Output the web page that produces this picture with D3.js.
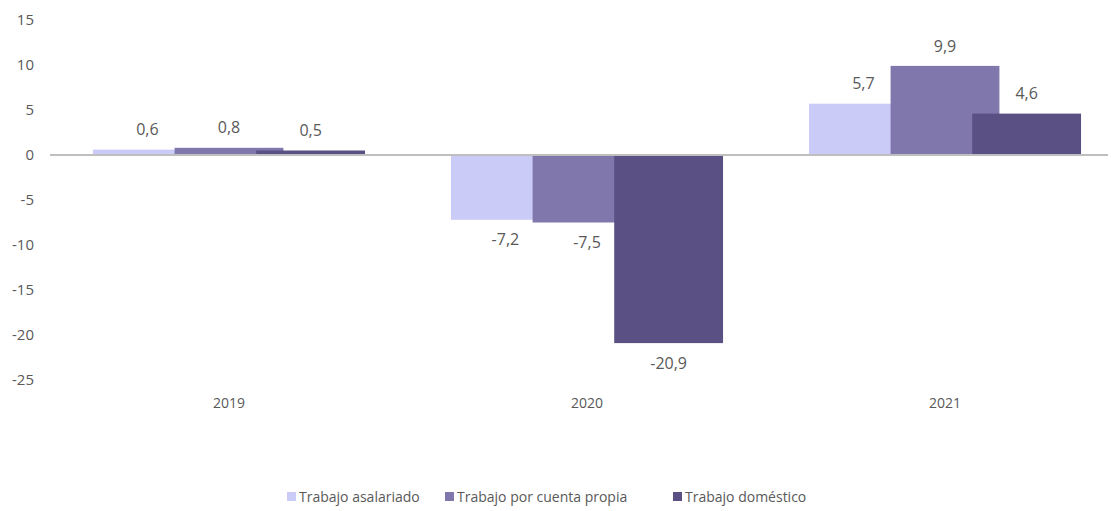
<html>
<head>
  <script src="https://d3js.org/d3.v7.min.js"></script>
  <style>
    body { margin: 0; background: white; }
    text { font-family: "Open Sans", sans-serif; fill: #595959; }
  </style>
</head>
<body>
  <svg id="chart" width="1111" height="511"></svg>
  <script>
    const years = ["2019", "2020", "2021"];
    const series = ["Trabajo asalariado", "Trabajo por cuenta propia", "Trabajo doméstico"];
    const colors = ["#CBCBF8", "#8077AC", "#5B5083"];
    const asalariado = [0.6, -7.2, 5.7];
    const cuentaPropia = [0.8, -7.5, 9.9];
    const domestico = [0.5, -20.9, 4.6];
    const yTicks = [15, 10, 5, 0, -5, -10, -15, -20, -25];

    const values = [asalariado, cuentaPropia, domestico];

    let svg = d3.select("svg#chart");

    const y = d3.scaleLinear().domain([-25, 15]).range([380, 20]);
    const x = d3.scaleBand().domain(years).range([50, 1124]).paddingInner(0.24).paddingOuter(0.12);
    // bars overlap: each bar is 4/3 of the series step
    const xs = d3.scaleBand().domain(series).range([0, x.bandwidth() * 0.9]);
    const barW = xs.bandwidth() * 4 / 3;

    const fmt = v => d3.format(".1f")(v).replace(".", ",").replace("−", "-");

    // y axis labels (no line)
    let yAxis = svg.append("g")
      .attr("transform", "translate(37,0)")
      .call(d3.axisLeft(y).tickValues(yTicks).tickSize(0).tickFormat(d => String(d)));
    yAxis.select(".domain").remove();
    yAxis.selectAll("text").style("font-size", "15px").attr("fill", "#595959").attr("font-family", "Open Sans");

    // bars
    series.forEach((s, si) => {
      years.forEach((yr, i) => {
        const v = values[si][i];
        const x0 = x(yr) + xs(s);
        svg.append("rect")
          .attr("x", x0)
          .attr("y", y(Math.max(0, v)))
          .attr("width", barW)
          .attr("height", Math.abs(y(v) - y(0)))
          .attr("fill", colors[si]);
      });
    });

    // zero line
    svg.append("line")
      .attr("x1", 50).attr("x2", 1108)
      .attr("y1", y(0)).attr("y2", y(0))
      .style("stroke", "#BFBFBF")
      .style("stroke-width", 2);

    // value labels
    series.forEach((s, si) => {
      years.forEach((yr, i) => {
        const v = values[si][i];
        const cx = x(yr) + xs(s) + barW / 2;
        svg.append("text")
          .attr("x", cx)
          .attr("y", v >= 0 ? y(v) - 20 : y(v) + 20)
          .attr("dy", "0.35em")
          .attr("text-anchor", "middle")
          .style("font-size", "16px")
          .text(fmt(v));
      });
    });

    // x labels
    years.forEach(yr => {
      svg.append("text")
        .attr("x", x(yr) + x.bandwidth() / 2)
        .attr("y", 403)
        .attr("dy", "0.35em")
        .attr("text-anchor", "middle")
        .style("font-size", "14px")
        .text(yr);
    });

    // legend
    const legendX = [287, 445, 673];
    series.forEach((s, si) => {
      svg.append("rect")
        .attr("x", legendX[si]).attr("y", 492)
        .attr("width", 9).attr("height", 9)
        .attr("fill", colors[si]);
      svg.append("text")
        .attr("x", legendX[si] + 12)
        .attr("y", 497)
        .attr("dy", "0.35em")
        .style("font-size", "14px")
        .text(s);
    });
  </script>
</body>
</html>
